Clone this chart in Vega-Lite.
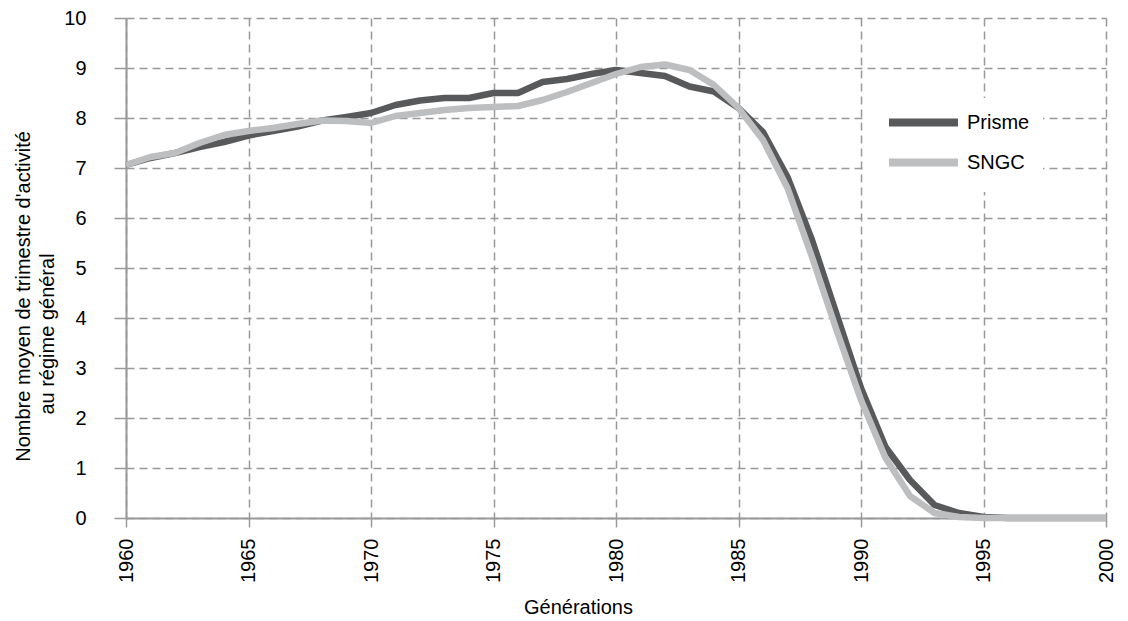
{
  "$schema": "https://vega.github.io/schema/vega-lite/v6.json",
  "width": 980,
  "height": 500,
  "autosize": "none",
  "padding": {"left": 126, "top": 18, "right": 22, "bottom": 103},
  "background": "white",
  "config": {
    "font": "Liberation Sans",
    "view": {"stroke": null}
  },
  "data": {
    "values": [
      {"year": 1960, "Prisme": 7.06, "SNGC": 7.06},
      {"year": 1961, "Prisme": 7.2, "SNGC": 7.22},
      {"year": 1962, "Prisme": 7.3, "SNGC": 7.3},
      {"year": 1963, "Prisme": 7.42, "SNGC": 7.5},
      {"year": 1964, "Prisme": 7.52, "SNGC": 7.66},
      {"year": 1965, "Prisme": 7.65, "SNGC": 7.74},
      {"year": 1966, "Prisme": 7.74, "SNGC": 7.8},
      {"year": 1967, "Prisme": 7.83, "SNGC": 7.88},
      {"year": 1968, "Prisme": 7.95, "SNGC": 7.95},
      {"year": 1969, "Prisme": 8.02, "SNGC": 7.94},
      {"year": 1970, "Prisme": 8.1, "SNGC": 7.9},
      {"year": 1971, "Prisme": 8.26, "SNGC": 8.04},
      {"year": 1972, "Prisme": 8.35, "SNGC": 8.1},
      {"year": 1973, "Prisme": 8.4, "SNGC": 8.16},
      {"year": 1974, "Prisme": 8.4, "SNGC": 8.2},
      {"year": 1975, "Prisme": 8.5, "SNGC": 8.22},
      {"year": 1976, "Prisme": 8.5, "SNGC": 8.24},
      {"year": 1977, "Prisme": 8.72, "SNGC": 8.36},
      {"year": 1978, "Prisme": 8.78, "SNGC": 8.52},
      {"year": 1979, "Prisme": 8.88, "SNGC": 8.7},
      {"year": 1980, "Prisme": 8.96, "SNGC": 8.88},
      {"year": 1981, "Prisme": 8.9, "SNGC": 9.02},
      {"year": 1982, "Prisme": 8.84, "SNGC": 9.07},
      {"year": 1983, "Prisme": 8.63, "SNGC": 8.96},
      {"year": 1984, "Prisme": 8.53, "SNGC": 8.66},
      {"year": 1985, "Prisme": 8.2, "SNGC": 8.2},
      {"year": 1986, "Prisme": 7.72, "SNGC": 7.56},
      {"year": 1987, "Prisme": 6.82, "SNGC": 6.6},
      {"year": 1988, "Prisme": 5.56, "SNGC": 5.22},
      {"year": 1989, "Prisme": 4.08, "SNGC": 3.76},
      {"year": 1990, "Prisme": 2.6, "SNGC": 2.36},
      {"year": 1991, "Prisme": 1.42, "SNGC": 1.2},
      {"year": 1992, "Prisme": 0.76, "SNGC": 0.44},
      {"year": 1993, "Prisme": 0.26, "SNGC": 0.1},
      {"year": 1994, "Prisme": 0.1, "SNGC": 0.02},
      {"year": 1995, "Prisme": 0.02, "SNGC": 0.0},
      {"year": 1996, "Prisme": 0.0, "SNGC": 0.0},
      {"year": 1997, "Prisme": 0.0, "SNGC": 0.0},
      {"year": 1998, "Prisme": 0.0, "SNGC": 0.0},
      {"year": 1999, "Prisme": 0.0, "SNGC": 0.0},
      {"year": 2000, "Prisme": 0.0, "SNGC": 0.0}
    ]
  },
  "transform": [
    {"fold": ["Prisme", "SNGC"], "as": ["series", "value"]}
  ],
  "mark": {"type": "line", "strokeWidth": 6.5, "strokeJoin": "round", "strokeCap": "butt"},
  "encoding": {
    "x": {
      "field": "year",
      "type": "quantitative",
      "scale": {"domain": [1960, 2000], "nice": false, "zero": false},
      "axis": {
        "values": [1960, 1965, 1970, 1975, 1980, 1985, 1990, 1995, 2000],
        "format": "d",
        "labelAngle": -90,
        "labelAlign": "right",
        "labelBaseline": "middle",
        "labelFontSize": 20,
        "labelColor": "black",
        "labelPadding": 11,
        "labelFlush": false,
        "domainColor": "#999999",
        "domainWidth": 2,
        "tickColor": "#999999",
        "tickWidth": 1.5,
        "tickSize": 9,
        "grid": true,
        "gridColor": "#999999",
        "gridWidth": 1.5,
        "gridDash": [8, 5],
        "title": "Générations",
        "titleFontSize": 20,
        "titleFontWeight": "normal",
        "titleColor": "black",
        "titleX": 452,
        "titleY": 89,
        "titleBaseline": "middle",
        "titleAlign": "center"
      }
    },
    "y": {
      "field": "value",
      "type": "quantitative",
      "scale": {"domain": [0, 10], "nice": false},
      "axis": {
        "values": [0, 1, 2, 3, 4, 5, 6, 7, 8, 9, 10],
        "labelFontSize": 20,
        "labelColor": "black",
        "labelPadding": 28,
        "domainColor": "#999999",
        "domainWidth": 2,
        "tickColor": "#999999",
        "tickWidth": 1.5,
        "tickSize": 12,
        "grid": true,
        "gridColor": "#999999",
        "gridWidth": 1.5,
        "gridDash": [8, 5],
        "title": ["Nombre moyen de trimestre d'activité", "au régime général\u2800\u2800\u2800\u2800\u2800"],
        "titleFontSize": 20,
        "titleFontWeight": "normal",
        "titleColor": "black",
        "titleAngle": -90,
        "titleAlign": "center",
        "titleBaseline": "top",
        "titleX": -113,
        "titleY": 278,
        "titleLineHeight": 24
      }
    },
    "color": {
      "field": "series",
      "type": "nominal",
      "scale": {"domain": ["Prisme", "SNGC"], "range": ["#58595b", "#bcbec0"]},
      "legend": {
        "title": null,
        "orient": "none",
        "legendX": 741,
        "legendY": 80,
        "padding": 13,
        "fillColor": "white",
        "strokeColor": null,
        "symbolOffset": 32,
        "symbolType": "M-4.6,0H4.6",
        "symbolSize": 225,
        "symbolStrokeWidth": 8,
        "labelFontSize": 20,
        "labelColor": "black",
        "labelOffset": 32,
        "rowPadding": 7
      }
    }
  }
}
